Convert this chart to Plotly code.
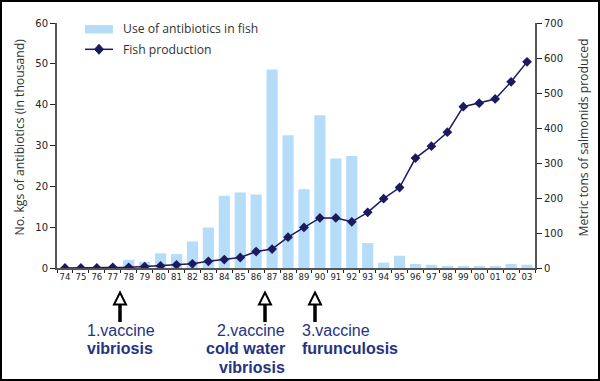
import plotly.graph_objects as go

years = ["74", "75", "76", "77", "78", "79", "80", "81", "82", "83", "84", "85", "86", "87", "88",
         "89", "90", "91", "92", "93", "94", "95", "96", "97", "98", "99", "00", "01", "02", "03"]
antibiotics = [0, 0, 0, 0, 2.0, 1.5, 3.6, 3.4, 6.5, 9.9, 17.7, 18.5, 18.0, 48.6, 32.5,
               19.3, 37.4, 26.8, 27.4, 6.1, 1.3, 3.0, 1.0, 0.8, 0.5, 0.5, 0.5, 0.5, 1.0, 0.8]
production = [0, 0, 0, 2, 2, 4, 6, 9, 12, 19, 24, 30, 47, 54, 88,
              116, 143, 143, 132, 159, 198, 230, 314, 348, 388, 461, 471, 483, 532, 589]

bar_name = "Use of antibiotics in fish"
line_name = "Fish production"
left_title = "No. kgs of antibiotics (in thousand)"
right_title = "Metric tons of salmonids produced"

BAR = "#b5dcf8"
NAVY = "#1c1a5e"
AXIS = "#555555"
ANN = "#243383"
TXT = "Liberation Sans"
TICK = "DejaVu Sans"
LBL = "Open Sans"

fig = go.Figure()
fig.add_trace(go.Bar(x=years, y=antibiotics, name=bar_name, marker_color=BAR,
                     marker_line_width=0, yaxis="y"))
fig.add_trace(go.Scatter(x=years, y=production, name=line_name, mode="lines+markers",
                         line=dict(color=NAVY, width=1.5),
                         marker=dict(symbol="diamond", size=7.5, color=NAVY), yaxis="y2"))

common_y = dict(showgrid=False, zeroline=False, fixedrange=True)
fig.update_layout(
    width=600, height=381,
    margin=dict(l=57, r=65, t=23, b=113),
    paper_bgcolor="white", plot_bgcolor="white",
    showlegend=False, bargap=0.3,
    font=dict(family=TICK, size=10, color="#222222"),
    xaxis=dict(type="category", range=[-0.5, 29.5], showline=True, linecolor=AXIS, linewidth=2,
               ticks="outside", ticklen=3, tickwidth=1, tickcolor="#222", tickson="boundaries",
               tickangle=0, tickfont=dict(size=8.5, family=TICK), showgrid=False, fixedrange=True),
    xaxis2=dict(overlaying="x", anchor="y", type="linear", range=[-0.5, 29.5], tick0=-0.5, dtick=1,
                ticks="inside", ticklen=3, tickwidth=1, tickcolor="#222", showticklabels=False,
                showline=False, showgrid=False, zeroline=False, fixedrange=True),
    yaxis=dict(range=[0, 60], dtick=10, showline=True, linecolor=AXIS, linewidth=2,
               ticks="outside", ticklen=5, tickcolor="#222", tickfont=dict(size=10), **common_y),
    yaxis2=dict(range=[0, 700], dtick=100, overlaying="y", side="right", anchor="x",
                showline=True, linecolor=AXIS, linewidth=2, ticks="outside", ticklen=5,
                tickcolor="#222", tickfont=dict(size=10), **common_y),
    yaxis3=dict(range=[0, 60], dtick=10, overlaying="y", side="left", anchor="x",
                ticks="inside", ticklen=5, tickcolor="#222", showticklabels=False,
                showline=False, **common_y),
    yaxis4=dict(range=[0, 700], dtick=100, overlaying="y", side="right", anchor="x",
                ticks="inside", ticklen=5, tickcolor="#222", showticklabels=False,
                showline=False, **common_y),
)

# helpers: pixel -> paper
PL, PW, PT, PH = 57, 478, 23, 245
def px(x):
    return (x - PL) / PW
def py(y):
    return (PT + PH - y) / PH

shapes = []
annotations = []

# outer frame
shapes.append(dict(type="rect", xref="paper", yref="paper", x0=px(1), x1=px(599), y0=py(380), y1=py(1),
                   line=dict(color="black", width=2), fillcolor="rgba(0,0,0,0)", layer="above"))

# custom legend
shapes.append(dict(type="rect", xref="paper", yref="paper", x0=px(85), x1=px(113), y0=py(33.5), y1=py(25),
                   fillcolor=BAR, line_width=0))
shapes.append(dict(type="line", xref="paper", yref="paper", x0=px(85), x1=px(113), y0=py(49.3), y1=py(49.3),
                   line=dict(color=NAVY, width=1.5)))
cx, cy = 99, 49.3
shapes.append(dict(type="path", xref="paper", yref="paper",
                   path=f"M {px(cx)} {py(cy-5)} L {px(cx+4.5)} {py(cy)} L {px(cx)} {py(cy+5)} L {px(cx-4.5)} {py(cy)} Z",
                   fillcolor=NAVY, line=dict(color=NAVY, width=1)))
annotations.append(dict(xref="paper", yref="paper", x=px(121), y=py(29), text=bar_name, showarrow=False,
                        xanchor="left", yanchor="middle", font=dict(family=LBL, size=12.2, color="#333")))
annotations.append(dict(xref="paper", yref="paper", x=px(121), y=py(49.3), text=line_name, showarrow=False,
                        xanchor="left", yanchor="middle", font=dict(family=LBL, size=12.2, color="#333")))

# axis titles
annotations.append(dict(xref="paper", yref="paper", x=px(18.5), y=py(137), text=left_title, showarrow=False,
                        textangle=-90, xanchor="center", yanchor="middle",
                        font=dict(family=LBL, size=12.2, color="#333")))
annotations.append(dict(xref="paper", yref="paper", x=px(583), y=py(137.5), text=right_title, showarrow=False,
                        textangle=-90, xanchor="center", yanchor="middle",
                        font=dict(family=LBL, size=12.2, color="#333")))

# vaccine arrows (hollow heads)
for ax in [120, 265, 315]:
    shapes.append(dict(type="line", xref="paper", yref="paper", x0=px(ax), x1=px(ax), y0=py(304), y1=py(322),
                       line=dict(color="black", width=3.5)))
    shapes.append(dict(type="path", xref="paper", yref="paper",
                       path=f"M {px(ax)} {py(292.5)} L {px(ax+6)} {py(304.5)} L {px(ax-6)} {py(304.5)} Z",
                       fillcolor="white", line=dict(color="black", width=2)))

vacc = [
    ("1.vaccine", 86, 330.3, "left", False),
    ("vibriosis", 86, 348.7, "left", True),
    ("2.vaccine", 286, 330.3, "right", False),
    ("cold water", 286, 348.7, "right", True),
    ("vibriosis", 286, 367, "right", True),
    ("3.vaccine", 300.5, 330.3, "left", False),
    ("furunculosis", 300.5, 348.7, "left", True),
]
for text, x, y, anchor, bold in vacc:
    annotations.append(dict(xref="paper", yref="paper", x=px(x), y=py(y),
                            text=f"<b>{text}</b>" if bold else text, showarrow=False,
                            xanchor=anchor, yanchor="middle", borderpad=0,
                            font=dict(family=TXT, size=16, color=ANN)))

fig.update_layout(shapes=shapes, annotations=annotations)
fig.write_html("out.html", config={"displayModeBar": False},
               post_script="document.body.style.margin='0';document.body.style.padding='0';")
